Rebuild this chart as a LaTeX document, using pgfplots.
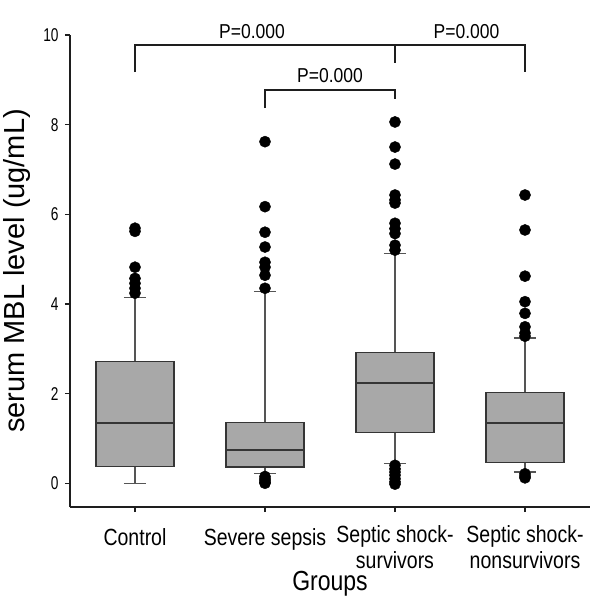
\documentclass[border=0pt]{standalone}
\usepackage{fontspec}
\setmainfont{Liberation Sans}
\usepackage{pgfplots}
\pgfplotsset{compat=1.18}
\usepgfplotslibrary{statistics}
\definecolor{boxfill}{HTML}{A8A8A8}
\definecolor{boxedge}{HTML}{353535}
\definecolor{whisk}{HTML}{555555}
\definecolor{axcol}{HTML}{1E1E1E}
\newcommand{\vs}[1]{\scalebox{1}[1.2]{#1}}
\newcommand{\twol}[2]{\raisebox{0pt}[\dimexpr\height-4bp\relax]{\vs{\begin{tabular}{@{}c@{}}#1\\#2\end{tabular}}}}
\pgfplotsset{
  mybox/.style={
    boxplot/draw direction=y,
    boxplot/box extend=0.6,
    boxplot/whisker extend=0.17,
    boxplot/every box/.style={draw=boxedge, fill=boxfill, line width=1.3bp},
    boxplot/every median/.style={draw=boxedge, line width=1.8bp},
    boxplot/every whisker/.style={draw=whisk, line width=1.1bp},
    mark=*, mark size=5.6bp, mark options={draw=black, fill=black, solid},
  }
}
\begin{document}
\begin{tikzpicture}
\begin{axis}[
  scale only axis, width=520bp, height=472bp,
  xmin=-0.5, xmax=3.5, ymin=-0.53, ymax=10,
  axis x line*=bottom, axis y line*=left,
  axis line style={-, line width=1.4bp, axcol},
  tick style={line width=1.2bp, axcol},
  tick align=outside, major tick length=5bp,
  xtick={0,1,2,3},
  xticklabels={\vs{Control}, \vs{Severe sepsis}, \twol{Septic shock-}{survivors}, \twol{Septic shock-}{nonsurvivors}},
  ytick={0,2,4,6,8,10},
  yticklabel={\fontsize{18.5bp}{21bp}\selectfont\scalebox{0.74}[1]{\pgfmathprintnumber{\tick}}},
  clip=false,
  /pgf/number format/assume math mode=true,
  yticklabel style={xshift=-3bp},
  xticklabel style={font=\fontsize{19.5bp}{21.5bp}\selectfont, yshift=-13bp},
  xlabel={\vs{Groups}},
  xlabel style={font=\fontsize{23bp}{27bp}\selectfont, at={(axis description cs:0.5,0)}, anchor=base, yshift=-83bp},
  ylabel={serum MBL level (ug/mL)},
  ylabel style={font=\fontsize{29bp}{32bp}\selectfont, at={(axis description cs:0,0.5)}, anchor=base, yshift=45bp},
]
% Control
\addplot[mybox, boxplot prepared={draw position=0, lower whisker=0, lower quartile=0.38, median=1.34, upper quartile=2.72, upper whisker=4.15}]
  table[row sep=\\, y index=0] {5.69\\ 5.62\\ 4.82\\ 4.57\\ 4.46\\ 4.35\\ 4.24\\};
% Severe sepsis
\addplot[mybox, boxplot prepared={draw position=1, lower whisker=0.21, lower quartile=0.36, median=0.75, upper quartile=1.35, upper whisker=4.27}]
  table[row sep=\\, y index=0] {7.62\\ 6.17\\ 5.6\\ 5.27\\ 4.93\\ 4.82\\ 4.64\\ 4.35\\ 0.15\\ 0.1\\ 0.06\\ 0.02\\ 0.0\\};
% Septic shock survivors
\addplot[mybox, boxplot prepared={draw position=2, lower whisker=0.44, lower quartile=1.13, median=2.23, upper quartile=2.92, upper whisker=5.13}]
  table[row sep=\\, y index=0] {8.06\\ 7.5\\ 7.12\\ 6.43\\ 6.32\\ 6.25\\ 5.8\\ 5.68\\ 5.57\\ 5.31\\ 5.2\\ 0.4\\ 0.32\\ 0.25\\ 0.18\\ 0.1\\ 0.03\\ -0.02\\};
% Septic shock nonsurvivors
\addplot[mybox, boxplot prepared={draw position=3, lower whisker=0.25, lower quartile=0.46, median=1.34, upper quartile=2.03, upper whisker=3.24}]
  table[row sep=\\, y index=0] {6.43\\ 5.65\\ 4.62\\ 4.05\\ 3.79\\ 3.49\\ 3.35\\ 3.28\\ 0.21\\ 0.16\\ 0.12\\};
% significance brackets
\draw[line width=1.5bp, axcol] (axis cs:0,9.17) -- (axis cs:0,9.78) -- (axis cs:3,9.78) -- (axis cs:3,9.17);
\draw[line width=1.5bp, axcol] (axis cs:2,9.78) -- (axis cs:2,9.37);
\draw[line width=1.5bp, axcol] (axis cs:1,8.37) -- (axis cs:1,8.77) -- (axis cs:2,8.77) -- (axis cs:2,8.57);
\node[font=\fontsize{17.5bp}{21bp}\selectfont] at (axis cs:0.9,10.08) {\scalebox{1}[1.15]{P=0.000}};
\node[font=\fontsize{17.5bp}{21bp}\selectfont] at (axis cs:2.55,10.08) {\scalebox{1}[1.15]{P=0.000}};
\node[font=\fontsize{17.5bp}{21bp}\selectfont] at (axis cs:1.5,9.1) {\scalebox{1}[1.15]{P=0.000}};
\end{axis}
\pgfresetboundingbox
\path[use as bounding box] ([shift={(-70bp,-92bp)}]current axis.south west) rectangle ([shift={(10bp,35bp)}]current axis.north east);
\end{tikzpicture}
\end{document}
